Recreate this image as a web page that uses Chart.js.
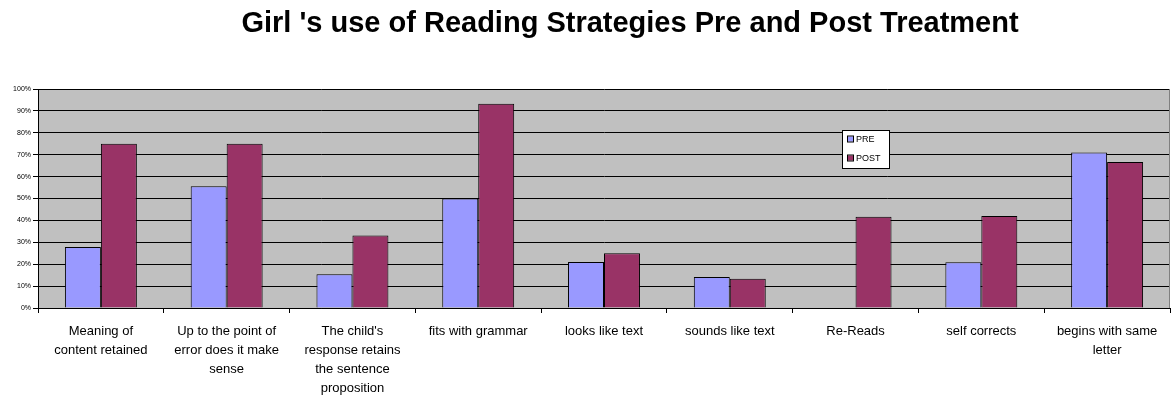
<!DOCTYPE html>
<html>
<head>
<meta charset="utf-8">
<script src="https://cdn.jsdelivr.net/npm/chart.js@4/dist/chart.umd.min.js"></script>
<style>
html,body{margin:0;padding:0;background:#fff;}
#wrap{width:1171px;height:398px;position:relative;}
</style>
</head>
<body>
<div id="wrap"><canvas id="c" width="1171" height="398"></canvas></div>
<script>
const chartTitle = "Girl 's use of Reading Strategies Pre and Post Treatment";
const categories = [
  ["Meaning of", "content retained"],
  ["Up to the point of", "error does it make", "sense"],
  ["The child's", "response retains", "the sentence", "proposition"],
  "fits with grammar",
  "looks like text",
  "sounds like text",
  "Re-Reads",
  "self corrects",
  ["begins with same", "letter"]
];
const seriesNames = ["PRE", "POST"];
const preValues  = [27.8, 55.6, 15.4, 50.0, 21.0, 14.2, 0, 20.9, 71.0];
const postValues = [75.0, 75.0, 33.1, 93.3, 25.0, 13.3, 41.7, 42.0, 66.7];
const yTicks = [0,10,20,30,40,50,60,70,80,90,100];

const bgPlugin = {
  id: 'bg',
  beforeDraw(chart) {
    const {ctx, chartArea: a} = chart;
    ctx.save();
    ctx.fillStyle = '#C0C0C0';
    ctx.fillRect(a.left, a.top, a.right - a.left, a.bottom - a.top);
    ctx.restore();
  },
  afterDraw(chart) {
    const {ctx, chartArea: a} = chart;
    ctx.save();
    // right border
    ctx.strokeStyle = '#808080';
    ctx.lineWidth = 1;
    ctx.beginPath();
    ctx.moveTo(a.right - 0.5, a.top);
    ctx.lineTo(a.right - 0.5, a.bottom);
    ctx.stroke();
    // title
    ctx.fillStyle = '#000';
    ctx.font = 'bold 29px "Liberation Sans", Arial, sans-serif';
    ctx.textAlign = 'center';
    ctx.textBaseline = 'alphabetic';
    ctx.fillText(chartTitle, 630, 32);
    // legend
    const lx = 842, ly = 130, lw = 48, lh = 39;
    ctx.fillStyle = '#fff';
    ctx.fillRect(lx, ly, lw, lh);
    ctx.strokeStyle = '#000';
    ctx.strokeRect(lx + 0.5, ly + 0.5, lw - 1, lh - 1);
    ctx.font = '9px "Liberation Sans", Arial, sans-serif';
    ctx.textAlign = 'left';
    ctx.textBaseline = 'middle';
    chart.data.datasets.forEach((ds, i) => {
      const cy = 139.5 + i * 19;
      ctx.fillStyle = ds.backgroundColor;
      ctx.fillRect(848, cy - 3, 5, 5);
      ctx.strokeStyle = '#000';
      ctx.strokeRect(847.5, cy - 3.5, 6, 6);
      ctx.fillStyle = '#000';
      ctx.fillText(ds.label, 856, cy);
    });
    ctx.restore();
  }
};

new Chart(document.getElementById('c'), {
  type: 'bar',
  data: {
    labels: categories,
    datasets: [
      { label: seriesNames[0], data: preValues, backgroundColor: '#9999FF', borderColor: '#000', borderWidth: 1 },
      { label: seriesNames[1], data: postValues, backgroundColor: '#993366', borderColor: '#000', borderWidth: 1 }
    ]
  },
  options: {
    responsive: false,
    animation: false,
    devicePixelRatio: 1,
    layout: { padding: { top: 89, right: 1, left: 0, bottom: 0 } },
    plugins: { legend: { display: false }, title: { display: false }, tooltip: { enabled: false } },
    datasets: { bar: { categoryPercentage: 0.572, barPercentage: 1 } },
    scales: {
      x: {
        afterFit(s) { s.height = 90; },
        grid: { offset: true, drawOnChartArea: false, color: '#000', tickLength: 5 },
        border: { color: '#000' },
        ticks: {
          autoSkip: false, maxRotation: 0, minRotation: 0, padding: 9,
          color: '#000',
          font: { family: '"Liberation Sans", Arial, sans-serif', size: 13, lineHeight: 1.46 }
        }
      },
      y: {
        min: 0, max: 100,
        afterFit(s) { s.width = 38; },
        afterBuildTicks(s) { s.ticks = yTicks.map(v => ({ value: v })); },
        grid: { color: '#000', tickLength: 5 },
        border: { color: '#000' },
        ticks: {
          padding: 2, color: '#000',
          font: { family: '"Liberation Sans", Arial, sans-serif', size: 7 },
          callback: v => v + '%'
        }
      }
    }
  },
  plugins: [bgPlugin]
});
</script>
</body>
</html>
